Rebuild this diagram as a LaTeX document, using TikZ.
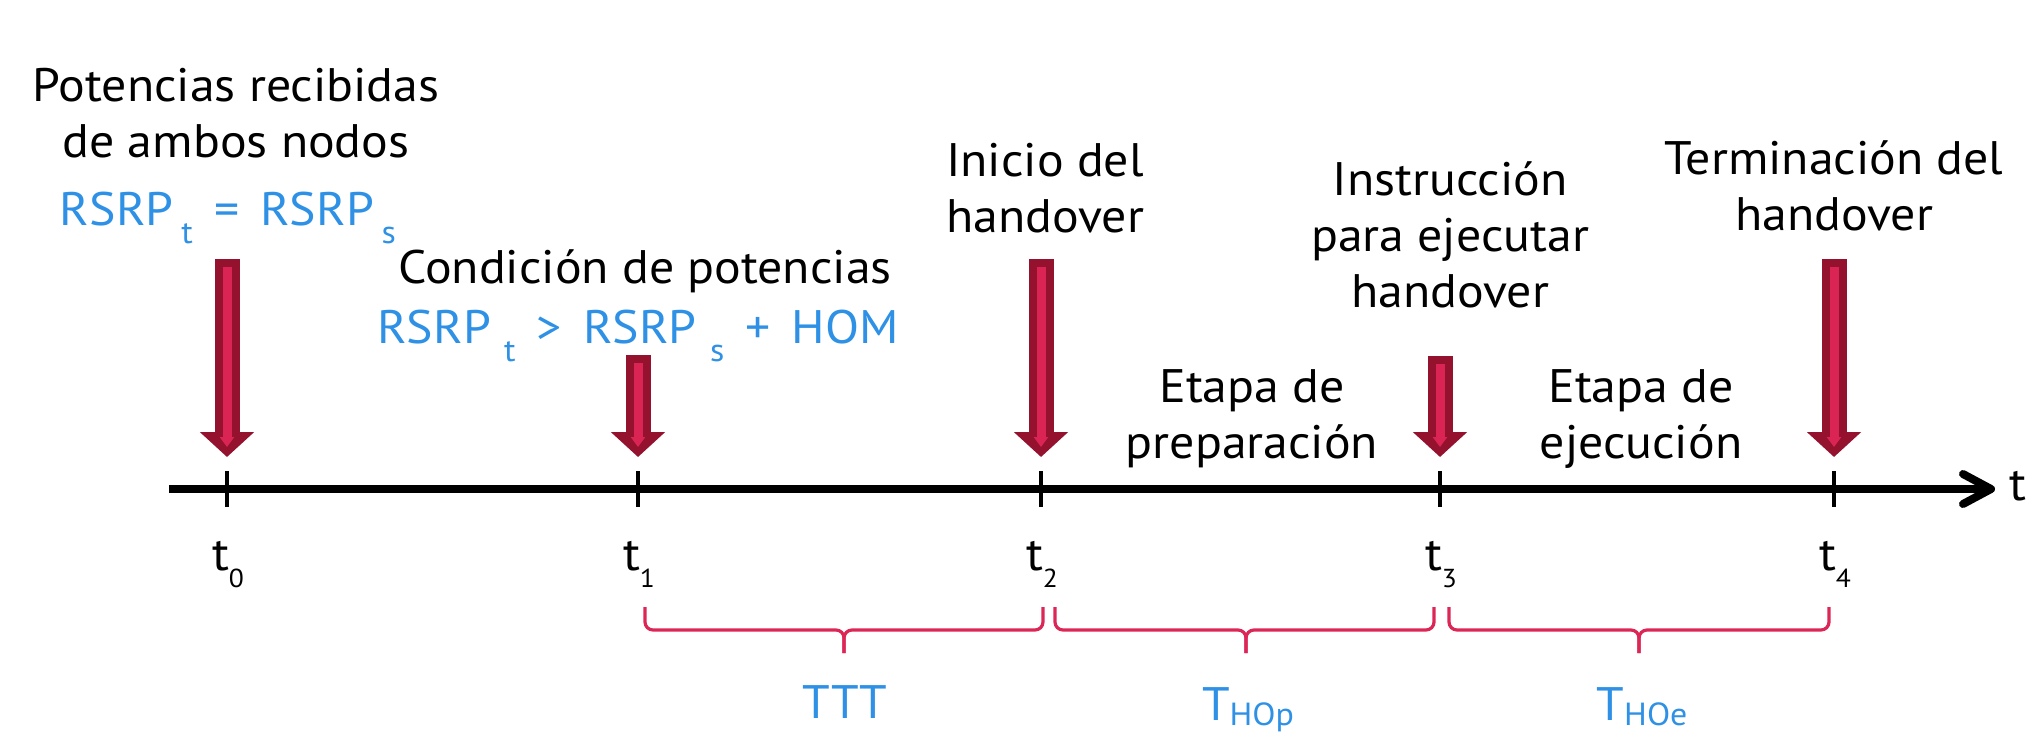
\documentclass[tikz,border=0pt]{standalone}
\usepackage{fontspec}
\setmainfont[FakeStretch=1.06]{PT Sans}
\usetikzlibrary{arrows.meta}
\definecolor{rojo}{RGB}{148,18,46}
\definecolor{rosa}{RGB}{218,36,84}
\definecolor{azul}{RGB}{46,145,229}
\definecolor{llavecol}{RGB}{220,38,86}
\newcommand{\sbt}[1]{\raisebox{-9pt}{\fontsize{16}{16}\selectfont #1}}
\newcommand{\sbi}[1]{\raisebox{-8.5pt}{\fontsize{13}{13}\selectfont #1}}
\newcommand{\sbT}[1]{\raisebox{-2.5pt}{\fontsize{16}{16}\selectfont #1}}

\begin{document}
\begin{tikzpicture}[x=0.5pt,y=-0.5pt]
\tikzset{
	texto/.style={align=center, anchor=base, inner sep=0pt, font=\fontsize{23.5}{28}\selectfont},
	ecuacion/.style={texto, text=azul},
	senal/.style={rojo, line width=12.5pt, -{Triangle[width=26.5pt,length=12.5pt]}},
	senalin/.style={rosa, line width=4.5pt, -{Triangle[width=7pt,length=5pt]}},
	marca/.style={line width=1.8pt},
	llave/.style={llavecol, line width=1.6pt, rounded corners=4pt}
}
\useasboundingbox (0,0) rectangle (2038,744);

% eje de tiempo
\coordinate (inicio) at (169,489);
\coordinate (fin) at (1995,489);
\draw[line width=4pt, -{Straight Barb[length=14pt,width=15pt,round]}] (inicio) -- (fin);
\node[texto] (teje) at (2018,500) {t};

\coordinate (t0) at (227,489);
\coordinate (t1) at (638,489);
\coordinate (t2) at (1041,489);
\coordinate (t3) at (1440,489);
\coordinate (t4) at (1834,489);

\draw[marca] (t0) ++(0,-18) -- ++(0,36);
\draw[marca] (t1) ++(0,-18) -- ++(0,36);
\draw[marca] (t2) ++(0,-18) -- ++(0,36);
\draw[marca] (t3) ++(0,-18) -- ++(0,36);
\draw[marca] (t4) ++(0,-18) -- ++(0,36);

\node[texto] (et0) at (228,570) {t\sbi{0}};
\node[texto] (et1) at (639,570) {t\sbi{1}};
\node[texto] (et2) at (1042,570) {t\sbi{2}};
\node[texto] (et3) at (1441,570) {t\sbi{3}};
\node[texto] (et4) at (1835,570) {t\sbi{4}};

% flechas de eventos
\draw[senal] (t0) ++(0,-230) -- ++(0,198);
\draw[senalin] (t0) ++(0,-222) -- ++(0,180);
\draw[senal] (t1) ++(0,-134) -- ++(0,102);
\draw[senalin] (t1) ++(0,-126) -- ++(0,84);
\draw[senal] (t2) ++(0,-230) -- ++(0,198);
\draw[senalin] (t2) ++(0,-222) -- ++(0,180);
\draw[senal] (t3) ++(0,-133) -- ++(0,101);
\draw[senalin] (t3) ++(0,-125) -- ++(0,83);
\draw[senal] (t4) ++(0,-230) -- ++(0,198);
\draw[senalin] (t4) ++(0,-222) -- ++(0,180);

% textos de eventos (base = ultima linea)
\node[texto] (potencias) at (236,157) {Potencias recibidas\\de ambos nodos};
\node[ecuacion] (igual) at (228,225) {RSRP\,\sbt{t}\ \,=\ \,RSRP\,\sbt{s}};
\node[texto] (condicion) at (645,283) {Condición de potencias};
\node[ecuacion] (mayor) at (638,343) {RSRP \sbt{t}\ \,>\ \,RSRP \sbt{s}\ \,+\ \,HOM};
\node[texto] (iniciohd) at (1045,232) {Inicio del\\handover};
\node[texto] (instruccion) at (1450,307) {Instrucción\\para ejecutar\\handover};
\node[texto] (terminacion) at (1834,230) {Terminación del\\handover};
\node[texto] (preparacion) at (1252,458) {Etapa de\\preparación};
\node[texto] (ejecucion) at (1641,458) {Etapa de\\ejecución};

% llaves de duracion
\draw[llave] (645,607) |- (844,630) -- (844,653);
\draw[llave] (1043,607) |- (844,630) -- (844,653);
\draw[llave] (1055,607) |- (1246,630) -- (1246,653);
\draw[llave] (1434,607) |- (1246,630) -- (1246,653);
\draw[llave] (1449,607) |- (1639,630) -- (1639,653);
\draw[llave] (1829,607) |- (1639,630) -- (1639,653);

\node[ecuacion] (ttt) at (845,718) {TTT};
\node[ecuacion] (thop) at (1248,720) {T\sbT{HOp}};
\node[ecuacion] (thoe) at (1642,720) {T\sbT{HOe}};

\end{tikzpicture}
\end{document}
